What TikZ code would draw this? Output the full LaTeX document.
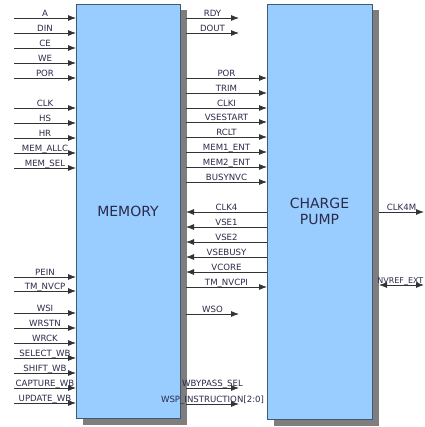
\documentclass[tikz,border=0pt]{standalone}
\usepackage{fontspec}
\setmainfont{DejaVu Sans}
\usetikzlibrary{arrows.meta,shadows}
\definecolor{boxfill}{HTML}{99CCFF}
\definecolor{boxline}{HTML}{3F5A73}
\definecolor{txt}{HTML}{2B2B4A}
\definecolor{shade}{HTML}{7E7E7E}
\begin{document}
\begin{tikzpicture}[x=1pt,y=-1pt,
  box/.style={draw=boxline, line width=0.8pt, fill=boxfill, inner sep=0pt, outer sep=0pt,
    anchor=north west, text=txt, font=\fontsize{14}{16}\selectfont, align=center,
    drop shadow={shadow xshift=6.5pt, shadow yshift=-6.5pt, fill=shade, opacity=1}},
  sig/.style={draw=black!80, line width=0.8pt, -{Latex[length=8pt,width=6pt]}},
  bisig/.style={draw=black!80, line width=0.8pt, {Latex[length=8pt,width=6pt]}-{Latex[length=8pt,width=6pt]}},
  lbltxt/.style={anchor=base, yshift=1.3pt, inner sep=0pt, font=\fontsize{8.6}{10}\selectfont, text=txt},
  lbl/.style={lbltxt, midway}]
\useasboundingbox (0,0) rectangle (424,427);
\fill[white] (0,0) rectangle (424,427);
% blocks
\node[box, minimum width=104pt, minimum height=414pt] (mem) at (76,4) {MEMORY};
\node[box, minimum width=105pt, minimum height=415pt] (cp) at (267,4) {CHARGE\\PUMP};
% shadow edges
\coordinate (mo) at (186,0);
\coordinate (co) at (379,0);
% left inputs
\foreach \t/\y in {A/18, DIN/33, CE/48, WE/63, POR/78, CLK/108, HS/123, HR/138,
  MEM\_ALLC/153, MEM\_SEL/168, PEIN/277, TM\_NVCP/291, WSI/313, WRSTN/328, WRCK/343,
  SELECT\_WB/358, SHIFT\_WB/373, CAPTURE\_WB/388, UPDATE\_WB/403}{
  \coordinate (L) at (14,\y);
  \draw[sig] (L) -- node[lbl]{\t} (L -| mem.west);
}
% memory to charge pump
\foreach \t/\y in {POR/78, TRIM/93, CLKI/108, VSESTART/122, RCLT/137, MEM1\_ENT/152,
  MEM2\_ENT/167, BUSYNVC/182, TM\_NVCPI/287}{
  \coordinate (M) at (mo |- 0,\y);
  \draw[sig] (M) -- node[lbl]{\t} (M -| cp.west);
}
% charge pump to memory
\foreach \t/\y in {CLK4/212, VSE1/227, VSE2/242, VSEBUSY/257, VCORE/272}{
  \coordinate (M) at (mo |- 0,\y);
  \draw[sig] (M -| cp.west) -- node[lbl]{\t} (M);
}
% short memory outputs
\foreach \t/\y in {RDY/18, DOUT/33, WSO/314, WBYPASS\_SEL/388, WSP\_INSTRUCTION[2:0]/404}{
  \coordinate (M) at (mo |- 0,\y);
  \coordinate (E) at (239,\y);
  \draw[sig] (M) -- node[lbl]{\t} (E);
}
% right side
\coordinate (R1) at (424,212);
\coordinate (R2) at (424,285);
\draw[sig] (R1 -| co) -- node[lbl]{CLK4M} (R1);
\draw[bisig] (R2 -| co) -- (R2);
\node[lbltxt, anchor=base east, font=\fontsize{8}{9}\selectfont] (nv) at (423.5,285) {NVREF\_EXT};
\end{tikzpicture}
\end{document}
